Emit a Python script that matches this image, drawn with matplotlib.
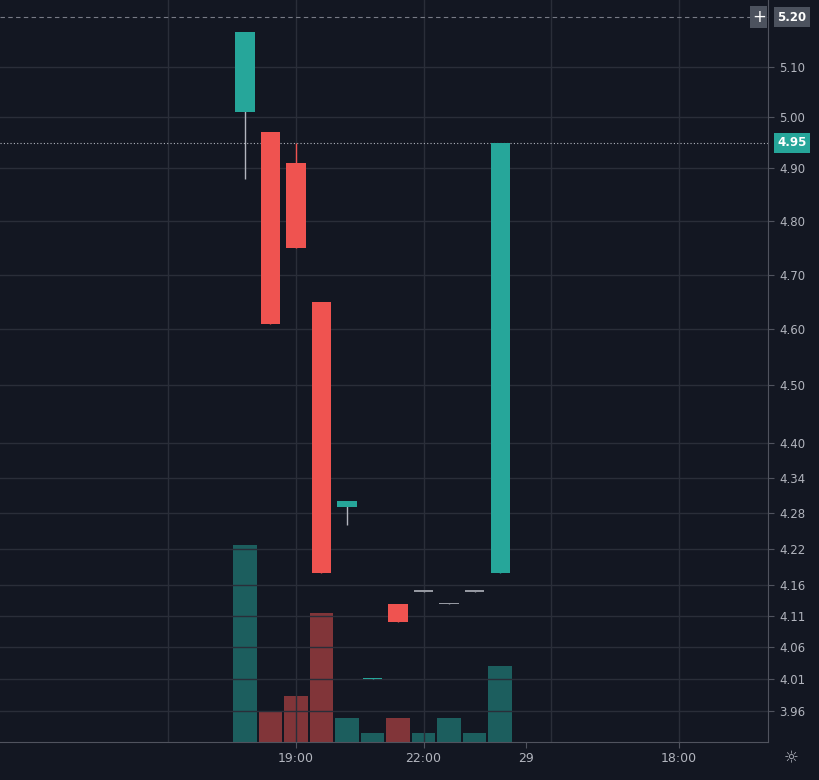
import matplotlib
matplotlib.use("Agg")
import matplotlib.pyplot as plt
import matplotlib.transforms as mtransforms

opens  = [5.01, 4.97, 4.91, 4.65, 4.29, 4.01, 4.13, 4.15, 4.13, 4.15, 4.18]
closes = [5.17, 4.61, 4.75, 4.18, 4.30, 4.012, 4.10, 4.152, 4.132, 4.152, 4.95]
highs  = [5.17, 4.97, 4.95, 4.65, 4.30, 4.012, 4.13, 4.152, 4.132, 4.152, 4.95]
lows   = [4.88, 4.61, 4.75, 4.18, 4.26, 4.01, 4.10, 4.15, 4.13, 4.15, 4.18]
volumes = [197, 31, 46, 129, 24, 9, 24, 9, 24, 9, 76]
price_ticks = [5.10, 5.00, 4.90, 4.80, 4.70, 4.60, 4.50, 4.40, 4.34, 4.28, 4.22, 4.16, 4.11, 4.06, 4.01, 3.96]
time_pos = [2, 7, 11, 17]
time_labels = ["19:00", "22:00", "29", "18:00"]
grid_x = [-3, 2, 7, 12, 17]

BG = "#131722"; GRID = "#2a2e39"; TXT = "#b2b5be"
UP = "#26a69a"; DN = "#ef5350"

fig = plt.figure(figsize=(8.19, 7.80), dpi=100, facecolor=BG)
ax = fig.add_axes([0, 38/780, 768/819, 742/780])
ax.set_facecolor(BG)
ax.set_yscale("log")
ax.set_ylim(3.912, 5.235)
ax.set_xlim(-9.6, 20.5)

for x in grid_x:
    ax.axvline(x, color=GRID, lw=1, zorder=0)
for t in price_ticks:
    ax.axhline(t, color=GRID, lw=1, zorder=0)

vax = ax.twinx()
vax.set_ylim(0, 742)
vax.set_xlim(-9.6, 20.5)
for i, v in enumerate(volumes):
    c = UP if closes[i] >= opens[i] else DN
    vax.bar(i, v, width=0.92, color=c, alpha=0.5, zorder=1)
vax.axis("off")

for i in range(len(opens)):
    c = UP if closes[i] >= opens[i] else DN
    if i in (7, 8, 9):
        c = "#9598a1"
    ax.vlines(i, lows[i], highs[i], color=c if i not in (0, 4) else "#b2b5be", lw=1, zorder=3)
    lo, hi = min(opens[i], closes[i]), max(opens[i], closes[i])
    ax.bar(i, hi - lo, bottom=lo, width=0.75, color=c, zorder=4)
ax.set_zorder(vax.get_zorder() + 1)
ax.patch.set_visible(False)
vax.set_facecolor(BG)

ax.axhline(5.20, color="#787b86", lw=0.8, ls=(0, (4, 3)))
ax.axhline(4.95, color="#b2b5be", lw=0.8, ls=(0, (1, 2)))

ax.set_yticks(price_ticks)
ax.set_yticklabels([f"{t:.2f}" for t in price_ticks])
ax.yaxis.set_minor_locator(matplotlib.ticker.NullLocator())
ax.yaxis.tick_right()
ax.tick_params(axis="y", colors=TXT, labelsize=8.5, length=4, pad=4, color="#50535e")
ax.set_xticks(time_pos)
ax.set_xticklabels(time_labels)
ax.tick_params(axis="x", colors=TXT, labelsize=9, length=4, color="#50535e")
for s in ax.spines.values():
    s.set_visible(False)
ax.spines["right"].set_visible(True); ax.spines["right"].set_color("#50535e")
ax.spines["bottom"].set_visible(True); ax.spines["bottom"].set_color("#50535e")

tr = mtransforms.blended_transform_factory(ax.transAxes, ax.transData)
ax.text(1.012, 4.95, "4.95", transform=tr, color="white", fontsize=8.5, weight="bold",
        va="center", ha="left", bbox=dict(boxstyle="square,pad=0.3", fc=UP, ec="none"), clip_on=False)
ax.text(1.012, 5.20, "5.20", transform=tr, color="white", fontsize=8.5, weight="bold",
        va="center", ha="left", bbox=dict(boxstyle="square,pad=0.3", fc="#4c525e", ec="none"), clip_on=False)
ax.text(0.988, 5.20, "+", transform=tr, color="white", fontsize=12, va="center", ha="center",
        bbox=dict(boxstyle="square,pad=0.1", fc="#4c525e", ec="none"), clip_on=False)
fig.text(791/819, 1 - 758/780, "☼", color=TXT, fontsize=12, ha="center", va="center")

fig.savefig("out.png", dpi=100, facecolor=BG)
